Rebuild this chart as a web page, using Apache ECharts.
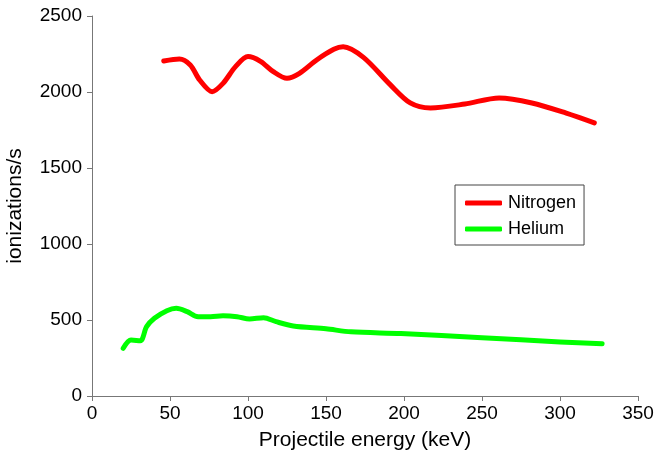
<!DOCTYPE html>
<html>
<head>
<meta charset="utf-8">
<script src="https://cdn.jsdelivr.net/npm/echarts@6/dist/echarts.min.js"></script>
<style>
  html, body { margin: 0; padding: 0; background: #fff; }
  #chart { width: 654px; height: 460px; }
</style>
</head>
<body>
<div id="chart"></div>
<script>
// data
var seriesNames = ['Nitrogen', 'Helium'];

var nitrogenX = [46, 56, 63, 69, 77, 84, 92, 100, 108, 116, 125, 133, 144, 155, 161, 174, 191, 204, 217, 239, 261, 282, 304, 322];
var nitrogenY = [2204, 2217, 2178, 2079, 2002, 2057, 2167, 2233, 2202, 2136, 2090, 2123, 2211, 2281, 2298, 2228, 2050, 1928, 1895, 1921, 1961, 1928, 1861, 1797];

var heliumX = [20, 25, 31, 35, 40, 48, 54, 61, 68, 76, 84, 93, 101, 110, 118, 129, 150, 166, 198, 250, 300, 327];
var heliumY = [314, 368, 364, 456, 511, 561, 577, 555, 522, 522, 528, 522, 507, 515, 489, 461, 442, 422, 411, 383, 356, 343];

var xTicks = { min: 0, max: 350, interval: 50 };
var yTicks = { min: 0, max: 2500, interval: 500 };

function pairs(xs, ys) {
  var out = [];
  for (var i = 0; i < xs.length; i++) {
    out.push([xs[i], ys[i]]);
  }
  return out;
}

var chart = echarts.init(document.getElementById('chart'), null, { renderer: 'canvas' });

var font = 'Liberation Sans, Arial, sans-serif';
var axisColor = '#777';

var option = {
  animation: false,
  textStyle: { fontFamily: font },
  grid: { left: 92, right: 16, top: 16, bottom: 64, containLabel: false, outerBoundsMode: 'none' },
  legend: {
    orient: 'vertical',
    left: 455,
    top: 185,
    padding: [9, 8, 7, 10],
    itemGap: 8,
    itemWidth: 37,
    itemHeight: 5,
    icon: 'roundRect',
    borderColor: '#444',
    borderWidth: 1,
    backgroundColor: '#fff',
    textStyle: { fontSize: 18, color: '#000', fontFamily: font, padding: [0, 0, 0, 1] },
    data: seriesNames
  },
  xAxis: {
    type: 'value',
    min: xTicks.min,
    max: xTicks.max,
    interval: xTicks.interval,
    name: 'Projectile energy (keV)',
    nameLocation: 'middle',
    nameGap: 34,
    nameTextStyle: { fontSize: 21, color: '#000', fontFamily: font },
    axisLine: { show: true, onZero: false, lineStyle: { color: axisColor, width: 1 } },
    axisTick: { show: true, length: 5, lineStyle: { color: axisColor } },
    axisLabel: { fontSize: 19, color: '#000', margin: 8, fontFamily: font, formatter: function (v) { return String(v); } },
    splitLine: { show: false }
  },
  yAxis: {
    type: 'value',
    min: yTicks.min,
    max: yTicks.max,
    interval: yTicks.interval,
    name: 'ionizations/s',
    nameLocation: 'middle',
    nameGap: 66,
    nameTextStyle: { fontSize: 21, color: '#000', fontFamily: font },
    axisLine: { show: true, lineStyle: { color: axisColor, width: 1 } },
    axisTick: { show: true, length: 5, lineStyle: { color: axisColor } },
    axisLabel: { fontSize: 19, color: '#000', margin: 10, fontFamily: font, formatter: function (v) { return String(v); } },
    splitLine: { show: false }
  },
  series: [
    {
      name: seriesNames[0],
      type: 'line',
      smooth: 0.3,
      symbol: 'none',
      color: '#ff0000',
      lineStyle: { color: '#ff0000', width: 5, cap: 'round', join: 'round' },
      data: pairs(nitrogenX, nitrogenY)
    },
    {
      name: seriesNames[1],
      type: 'line',
      smooth: 0.3,
      symbol: 'none',
      color: '#00ff00',
      lineStyle: { color: '#00ff00', width: 5, cap: 'round', join: 'round' },
      data: pairs(heliumX, heliumY)
    }
  ]
};

chart.setOption(option);
</script>
</body>
</html>
